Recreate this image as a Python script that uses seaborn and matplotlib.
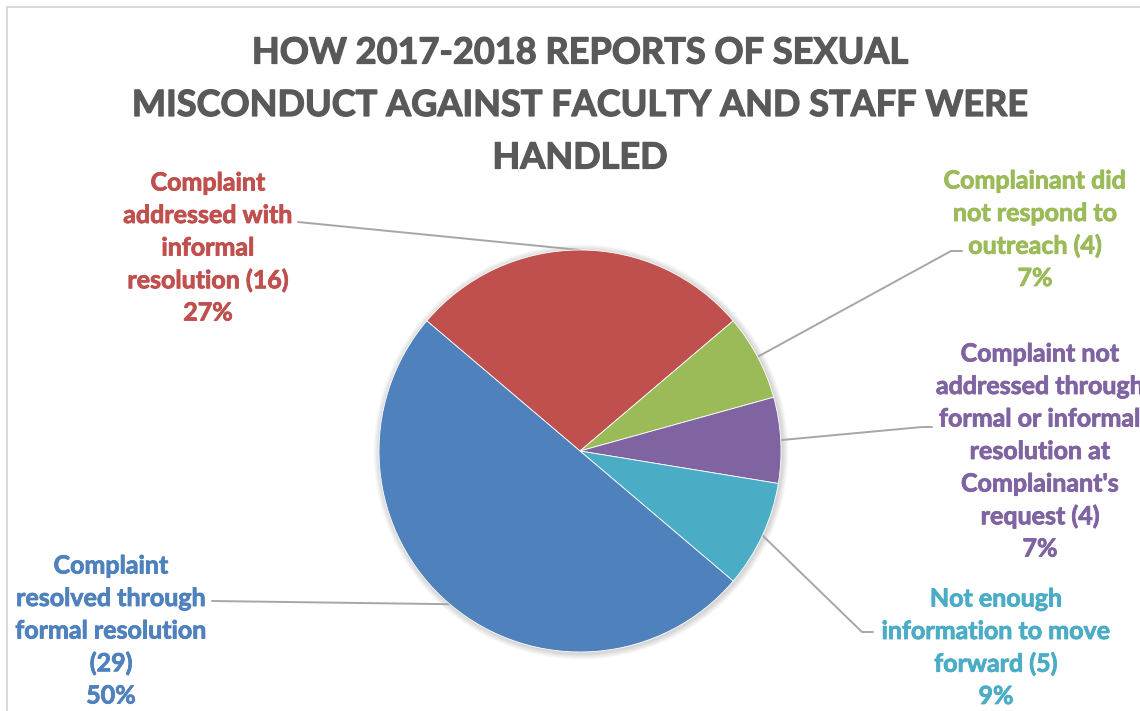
import numpy as np
import matplotlib
matplotlib.use("Agg")
import matplotlib.pyplot as plt
import matplotlib.patheffects as pe
import seaborn as sns
from matplotlib.patches import Circle

# ---- data -------------------------------------------------------------
title_lines = ["HOW 2017-2018 REPORTS OF SEXUAL",
               "MISCONDUCT AGAINST FACULTY AND STAFF WERE",
               "HANDLED"]
category_lines = [
    ["Complaint", "addressed with", "informal", "resolution"],
    ["Complainant did", "not respond to", "outreach"],
    ["Complaint not", "addressed through", "formal or informal",
     "resolution at", "Complainant's", "request"],
    ["Not enough", "information to move", "forward"],
    ["Complaint", "resolved through", "formal resolution", ""],
]
counts = [16, 4, 4, 5, 29]
percent_labels = ["27%", "7%", "7%", "9%", "50%"]
colors = ["#C0504D", "#9BBB59", "#8064A2", "#4BACC6", "#4F81BD"]

# ---- layout (pixel space, y measured from the top) ---------------------
W, H = 1140, 711
CX, CY, R = 580, 451, 201
label_centers = [(208, 183), (1035, 181), (1040, 354), (996, 599), (111, 566)]
line_step = 32.5
elbows = [None, (951, 251), (922, 427), (862, 632), None]
line_ends = [(298, 222), (962, 251), (932, 427), (873, 632), (212, 601)]

sns.set_theme(style="white")
plt.rcParams["font.family"] = ["Lato", "DejaVu Sans"]

fig = plt.figure(figsize=(W / 100, H / 100), dpi=100)
ax = fig.add_axes([0, 0, 1, 1])


def Y(py):
    return H - py


def heavy(color, width):
    # slightly thicker strokes for the bold text
    return [pe.withStroke(linewidth=width, foreground=color)]


# soft shadow around the pie
for i in range(7):
    ax.add_patch(Circle((CX + 1, Y(CY) - 1), R + 1 + i * 0.9,
                        color="black", alpha=0.022, lw=0, zorder=0))

wedges, _ = ax.pie(counts, colors=colors, startangle=139.66, counterclock=False,
                   center=(CX, Y(CY)), radius=R,
                   wedgeprops=dict(edgecolor="white", linewidth=0.6))
for w in wedges:
    w.set_zorder(2)

ax.set_xlim(0, W)
ax.set_ylim(0, H)
ax.set_aspect("equal")
ax.axis("off")

# chart frame (left and top edges)
ax.plot([7, 7], [0, Y(7)], color="#D9D9D9", lw=1.4, zorder=1)
ax.plot([7, W], [Y(7), Y(7)], color="#D9D9D9", lw=1.4, zorder=1)

# title
for i, line in enumerate(title_lines):
    ax.text(580, Y(53 + i * 52.5), line, ha="center", va="center",
            fontsize=26, fontweight="bold", color="#595959",
            path_effects=heavy("#595959", 0.9))

# data labels with leader lines
for k, w in enumerate(wedges):
    mid = np.deg2rad((w.theta1 + w.theta2) / 2)
    anchor = (CX + R * np.cos(mid), Y(CY) + R * np.sin(mid))
    pts = [anchor]
    if elbows[k] is not None:
        pts.append((elbows[k][0], Y(elbows[k][1])))
    pts.append((line_ends[k][0], Y(line_ends[k][1])))
    xs, ys = zip(*pts)
    ax.plot(xs, ys, color="#A6A6A6", lw=1.4, zorder=1)

    lines = list(category_lines[k])
    count_txt = f"({counts[k]})"
    if lines[-1] == "":
        lines[-1] = count_txt
    else:
        lines[-1] = f"{lines[-1]} {count_txt}"
    lines.append(percent_labels[k])
    lx, ly = label_centers[k]
    for j, t in enumerate(lines):
        ax.text(lx, Y(ly + j * line_step), t, ha="center", va="center",
                fontsize=18, fontweight="bold", color=colors[k],
                path_effects=heavy(colors[k], 0.6))

fig.savefig("out.png", dpi=100, facecolor="white")
